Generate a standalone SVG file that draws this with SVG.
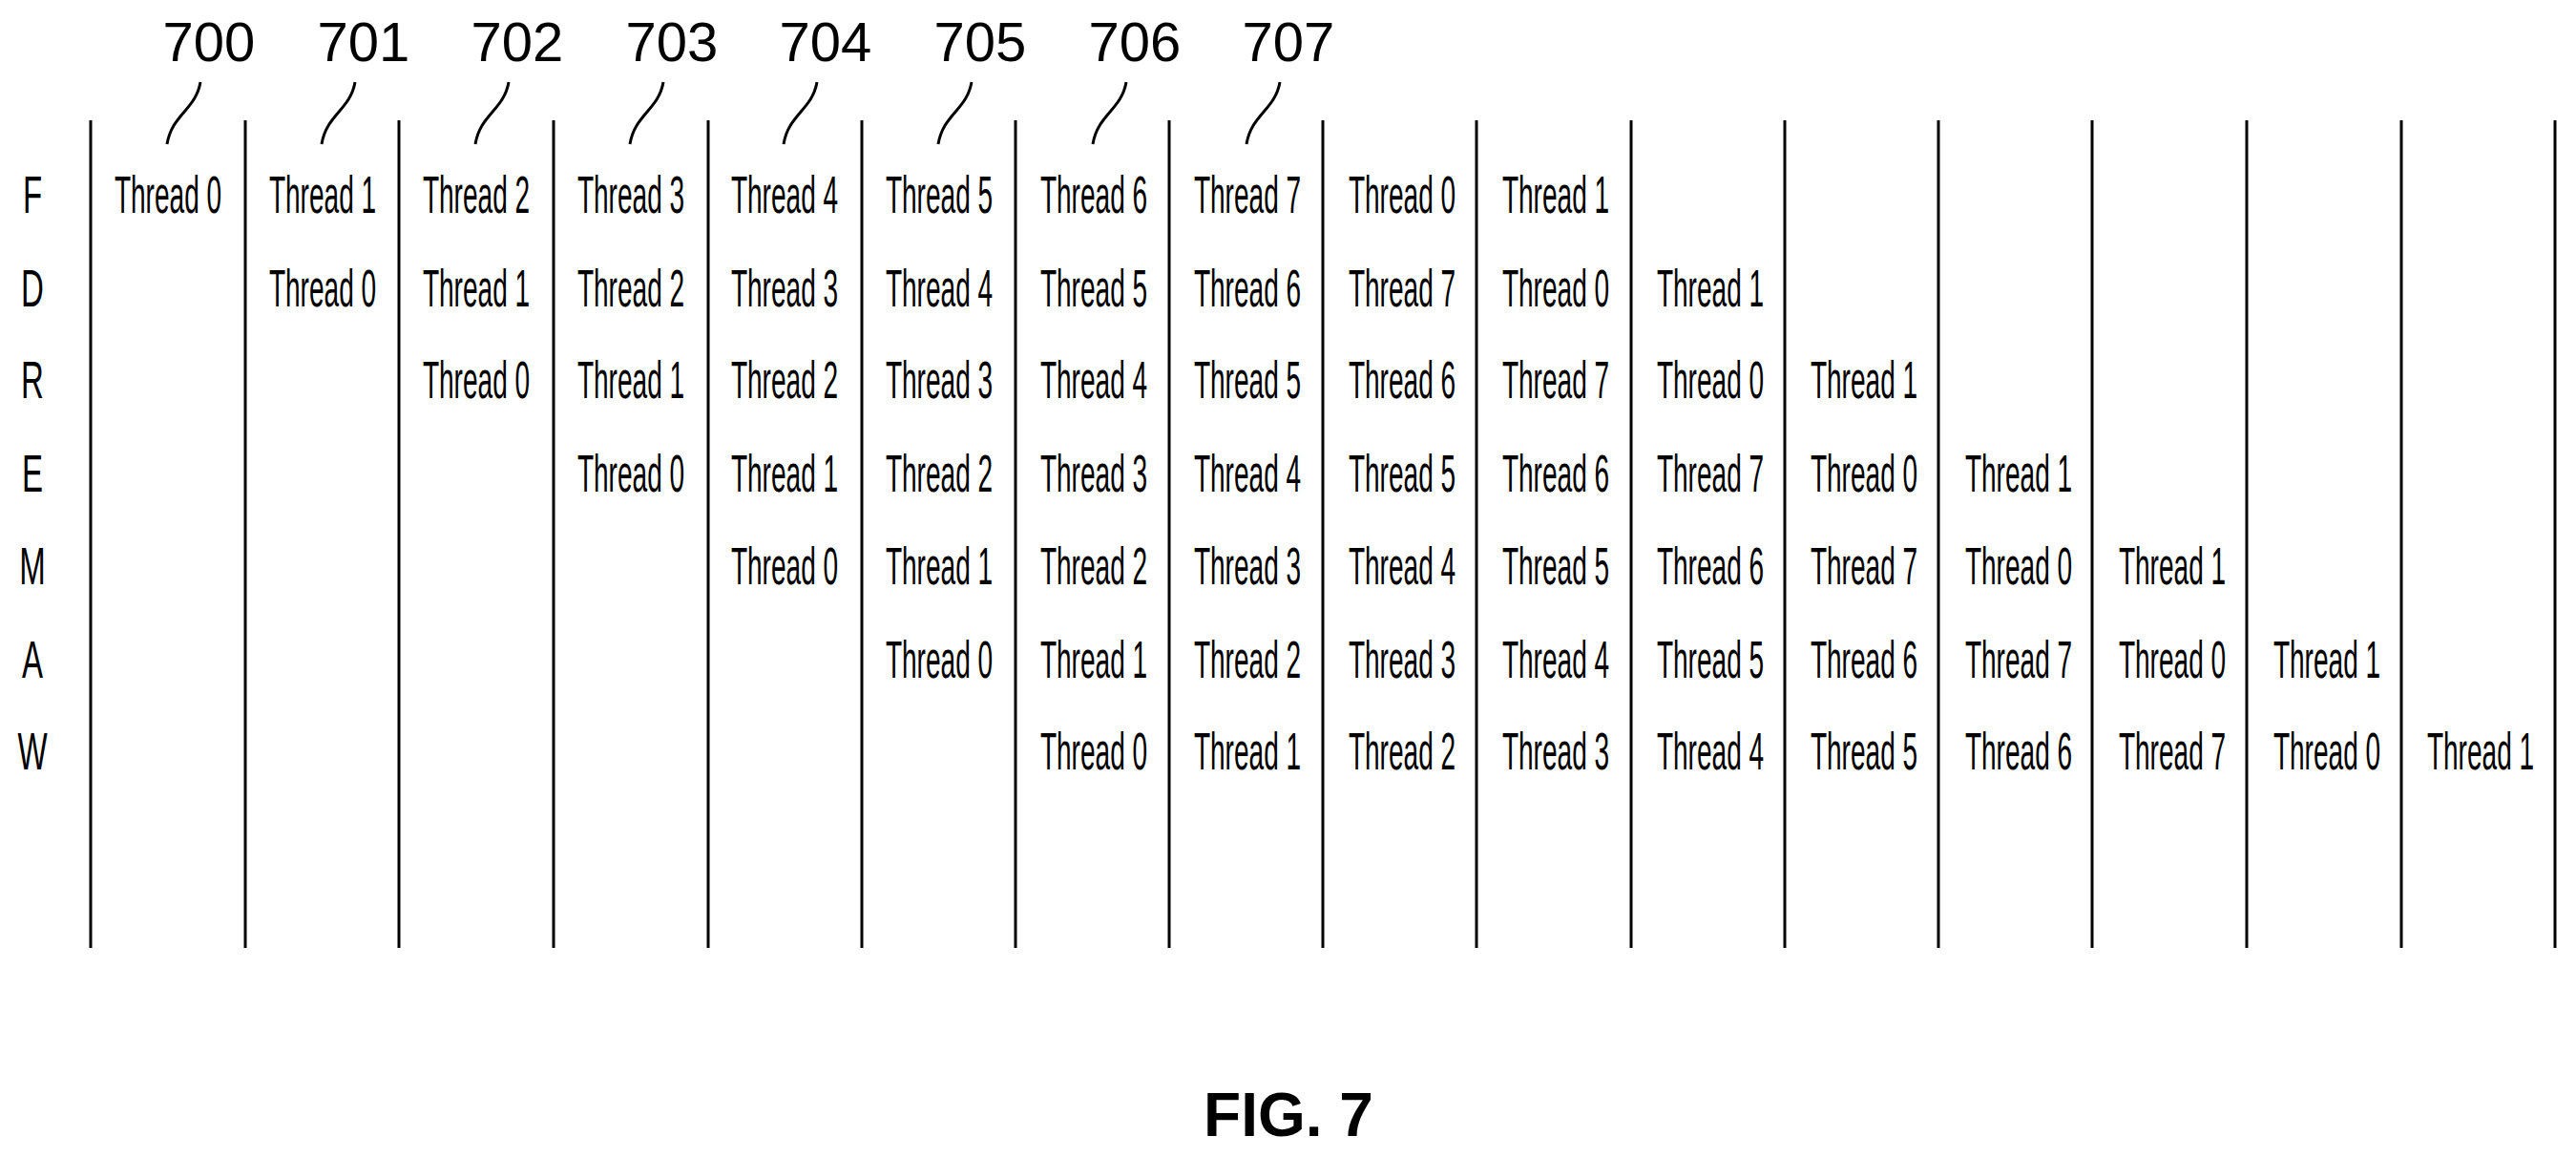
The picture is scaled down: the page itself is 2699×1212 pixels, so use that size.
<svg xmlns="http://www.w3.org/2000/svg" width="2699" height="1212" viewBox="0 0 2699 1212">
<style>
.t{font-family:"Liberation Sans",Arial,sans-serif;font-size:55px;fill:#000;text-anchor:middle}
.n{font-family:"Liberation Sans",Arial,sans-serif;font-size:58px;fill:#000;text-anchor:middle}
.f{font-family:"Liberation Sans",Arial,sans-serif;font-size:64px;font-weight:bold;fill:#000;text-anchor:middle}
.l{stroke:#000;stroke-width:3;fill:none}
</style>
<rect width="2699" height="1212" fill="#fff"/>
<g id="grid">
<line class="l" x1="95" y1="126" x2="95" y2="993"/><line class="l" x1="257" y1="126" x2="257" y2="993"/><line class="l" x1="418" y1="126" x2="418" y2="993"/><line class="l" x1="580" y1="126" x2="580" y2="993"/><line class="l" x1="742" y1="126" x2="742" y2="993"/><line class="l" x1="903" y1="126" x2="903" y2="993"/><line class="l" x1="1064" y1="126" x2="1064" y2="993"/><line class="l" x1="1225" y1="126" x2="1225" y2="993"/><line class="l" x1="1386" y1="126" x2="1386" y2="993"/><line class="l" x1="1547" y1="126" x2="1547" y2="993"/><line class="l" x1="1709" y1="126" x2="1709" y2="993"/><line class="l" x1="1870" y1="126" x2="1870" y2="993"/><line class="l" x1="2031" y1="126" x2="2031" y2="993"/><line class="l" x1="2192" y1="126" x2="2192" y2="993"/><line class="l" x1="2354" y1="126" x2="2354" y2="993"/><line class="l" x1="2516" y1="126" x2="2516" y2="993"/><line class="l" x1="2677" y1="126" x2="2677" y2="993"/>
</g>
<g id="rowlabels">
<text class="t" transform="translate(34,223) scale(0.6,1)">F</text><text class="t" transform="translate(34,321) scale(0.6,1)">D</text><text class="t" transform="translate(34,417) scale(0.6,1)">R</text><text class="t" transform="translate(34,515) scale(0.6,1)">E</text><text class="t" transform="translate(34,612) scale(0.6,1)">M</text><text class="t" transform="translate(34,710) scale(0.6,1)">A</text><text class="t" transform="translate(34,806) scale(0.6,1)">W</text>
</g>
<g id="refs">
<text class="n" x="219" y="64">700</text><text class="n" x="381" y="64">701</text><text class="n" x="542" y="64">702</text><text class="n" x="704" y="64">703</text><text class="n" x="865" y="64">704</text><text class="n" x="1027" y="64">705</text><text class="n" x="1189" y="64">706</text><text class="n" x="1350" y="64">707</text>
</g>
<g id="connectors">
<path class="l" d="M210 86 C205 115 180 120 175 151"/><path class="l" d="M372 86 C367 115 342 120 337 151"/><path class="l" d="M533 86 C528 115 503 120 498 151"/><path class="l" d="M695 86 C690 115 665 120 660 151"/><path class="l" d="M856 86 C851 115 826 120 821 151"/><path class="l" d="M1018 86 C1013 115 988 120 983 151"/><path class="l" d="M1180 86 C1175 115 1150 120 1145 151"/><path class="l" d="M1341 86 C1336 115 1311 120 1306 151"/>
</g>
<g id="cells">
<text class="t" transform="translate(176,223) scale(0.51,1)">Thread 0</text>
<text class="t" transform="translate(338,223) scale(0.51,1)">Thread 1</text>
<text class="t" transform="translate(499,223) scale(0.51,1)">Thread 2</text>
<text class="t" transform="translate(661,223) scale(0.51,1)">Thread 3</text>
<text class="t" transform="translate(822,223) scale(0.51,1)">Thread 4</text>
<text class="t" transform="translate(984,223) scale(0.51,1)">Thread 5</text>
<text class="t" transform="translate(1146,223) scale(0.51,1)">Thread 6</text>
<text class="t" transform="translate(1307,223) scale(0.51,1)">Thread 7</text>
<text class="t" transform="translate(1469,223) scale(0.51,1)">Thread 0</text>
<text class="t" transform="translate(1630,223) scale(0.51,1)">Thread 1</text>
<text class="t" transform="translate(338,321) scale(0.51,1)">Thread 0</text>
<text class="t" transform="translate(499,321) scale(0.51,1)">Thread 1</text>
<text class="t" transform="translate(661,321) scale(0.51,1)">Thread 2</text>
<text class="t" transform="translate(822,321) scale(0.51,1)">Thread 3</text>
<text class="t" transform="translate(984,321) scale(0.51,1)">Thread 4</text>
<text class="t" transform="translate(1146,321) scale(0.51,1)">Thread 5</text>
<text class="t" transform="translate(1307,321) scale(0.51,1)">Thread 6</text>
<text class="t" transform="translate(1469,321) scale(0.51,1)">Thread 7</text>
<text class="t" transform="translate(1630,321) scale(0.51,1)">Thread 0</text>
<text class="t" transform="translate(1792,321) scale(0.51,1)">Thread 1</text>
<text class="t" transform="translate(499,417) scale(0.51,1)">Thread 0</text>
<text class="t" transform="translate(661,417) scale(0.51,1)">Thread 1</text>
<text class="t" transform="translate(822,417) scale(0.51,1)">Thread 2</text>
<text class="t" transform="translate(984,417) scale(0.51,1)">Thread 3</text>
<text class="t" transform="translate(1146,417) scale(0.51,1)">Thread 4</text>
<text class="t" transform="translate(1307,417) scale(0.51,1)">Thread 5</text>
<text class="t" transform="translate(1469,417) scale(0.51,1)">Thread 6</text>
<text class="t" transform="translate(1630,417) scale(0.51,1)">Thread 7</text>
<text class="t" transform="translate(1792,417) scale(0.51,1)">Thread 0</text>
<text class="t" transform="translate(1953,417) scale(0.51,1)">Thread 1</text>
<text class="t" transform="translate(661,515) scale(0.51,1)">Thread 0</text>
<text class="t" transform="translate(822,515) scale(0.51,1)">Thread 1</text>
<text class="t" transform="translate(984,515) scale(0.51,1)">Thread 2</text>
<text class="t" transform="translate(1146,515) scale(0.51,1)">Thread 3</text>
<text class="t" transform="translate(1307,515) scale(0.51,1)">Thread 4</text>
<text class="t" transform="translate(1469,515) scale(0.51,1)">Thread 5</text>
<text class="t" transform="translate(1630,515) scale(0.51,1)">Thread 6</text>
<text class="t" transform="translate(1792,515) scale(0.51,1)">Thread 7</text>
<text class="t" transform="translate(1953,515) scale(0.51,1)">Thread 0</text>
<text class="t" transform="translate(2115,515) scale(0.51,1)">Thread 1</text>
<text class="t" transform="translate(822,612) scale(0.51,1)">Thread 0</text>
<text class="t" transform="translate(984,612) scale(0.51,1)">Thread 1</text>
<text class="t" transform="translate(1146,612) scale(0.51,1)">Thread 2</text>
<text class="t" transform="translate(1307,612) scale(0.51,1)">Thread 3</text>
<text class="t" transform="translate(1469,612) scale(0.51,1)">Thread 4</text>
<text class="t" transform="translate(1630,612) scale(0.51,1)">Thread 5</text>
<text class="t" transform="translate(1792,612) scale(0.51,1)">Thread 6</text>
<text class="t" transform="translate(1953,612) scale(0.51,1)">Thread 7</text>
<text class="t" transform="translate(2115,612) scale(0.51,1)">Thread 0</text>
<text class="t" transform="translate(2276,612) scale(0.51,1)">Thread 1</text>
<text class="t" transform="translate(984,710) scale(0.51,1)">Thread 0</text>
<text class="t" transform="translate(1146,710) scale(0.51,1)">Thread 1</text>
<text class="t" transform="translate(1307,710) scale(0.51,1)">Thread 2</text>
<text class="t" transform="translate(1469,710) scale(0.51,1)">Thread 3</text>
<text class="t" transform="translate(1630,710) scale(0.51,1)">Thread 4</text>
<text class="t" transform="translate(1792,710) scale(0.51,1)">Thread 5</text>
<text class="t" transform="translate(1953,710) scale(0.51,1)">Thread 6</text>
<text class="t" transform="translate(2115,710) scale(0.51,1)">Thread 7</text>
<text class="t" transform="translate(2276,710) scale(0.51,1)">Thread 0</text>
<text class="t" transform="translate(2438,710) scale(0.51,1)">Thread 1</text>
<text class="t" transform="translate(1146,806) scale(0.51,1)">Thread 0</text>
<text class="t" transform="translate(1307,806) scale(0.51,1)">Thread 1</text>
<text class="t" transform="translate(1469,806) scale(0.51,1)">Thread 2</text>
<text class="t" transform="translate(1630,806) scale(0.51,1)">Thread 3</text>
<text class="t" transform="translate(1792,806) scale(0.51,1)">Thread 4</text>
<text class="t" transform="translate(1953,806) scale(0.51,1)">Thread 5</text>
<text class="t" transform="translate(2115,806) scale(0.51,1)">Thread 6</text>
<text class="t" transform="translate(2276,806) scale(0.51,1)">Thread 7</text>
<text class="t" transform="translate(2438,806) scale(0.51,1)">Thread 0</text>
<text class="t" transform="translate(2599,806) scale(0.51,1)">Thread 1</text>
</g>
<g id="caption"><text class="f" x="1350" y="1190">FIG. 7</text></g>
</svg>
